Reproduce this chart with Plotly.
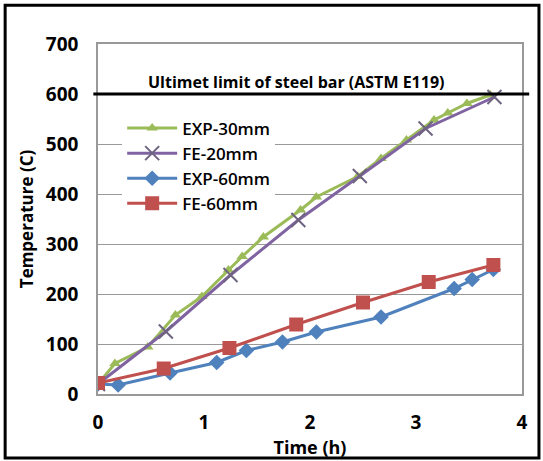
import plotly.graph_objects as go

# EXP-30mm (green triangles)
exp30_t = [0, 0.16, 0.47, 0.73, 0.98, 1.23, 1.36, 1.56, 1.91, 2.06, 2.45, 2.67, 2.91, 3.17, 3.30, 3.48, 3.70]
exp30_T = [20, 61, 94, 158, 195, 248, 275, 314, 368, 394, 435, 471, 508, 548, 562, 581, 598]
# FE-20mm (purple crosses)
fe20_t = [0, 0.64, 1.25, 1.89, 2.47, 3.09, 3.74]
fe20_T = [20, 125, 238, 348, 436, 531, 594]
# EXP-60mm (blue diamonds)
exp60_t = [0, 0.19, 0.68, 1.12, 1.40, 1.74, 2.06, 2.67, 3.36, 3.53, 3.73]
exp60_T = [20, 18, 42, 63, 87, 104, 124, 154, 211, 229, 249]
# FE-60mm (red squares)
fe60_t = [0, 0.62, 1.24, 1.87, 2.50, 3.12, 3.73]
fe60_T = [22, 51, 92, 139, 183, 224, 258]

limit_value = 600
limit_label = "Ultimet limit of steel bar (ASTM E119)"
x_ticks = [0, 1, 2, 3, 4]
y_ticks = [0, 100, 200, 300, 400, 500, 600, 700]

FONT = "Open Sans"

fig = go.Figure()
fig.add_trace(go.Scatter(x=exp30_t, y=exp30_T, name="EXP-30mm", mode="lines+markers",
                         line=dict(color="#9BBB59", width=3),
                         marker=dict(symbol="triangle-up", size=10, color="#9BBB59")))
fig.add_trace(go.Scatter(x=fe20_t, y=fe20_T, name="FE-20mm", mode="lines+markers",
                         line=dict(color="#8064A2", width=3),
                         marker=dict(symbol="x-thin-open", size=14, color="#6E6480",
                                     line=dict(color="#6E6480", width=2))))
fig.add_trace(go.Scatter(x=exp60_t, y=exp60_T, name="EXP-60mm", mode="lines+markers",
                         line=dict(color="#4F81BD", width=3),
                         marker=dict(symbol="diamond", size=12, color="#4F81BD")))
fig.add_trace(go.Scatter(x=fe60_t, y=fe60_T, name="FE-60mm", mode="lines+markers",
                         line=dict(color="#C0504D", width=3),
                         marker=dict(symbol="square", size=14, color="#C0504D")))

# limit line
fig.add_shape(type="line", xref="paper", yref="y", x0=-0.011, x1=1.017,
              y0=limit_value, y1=limit_value, line=dict(color="black", width=3))
fig.add_annotation(xref="x", yref="y", x=1.87, y=limit_value, yshift=12,
                   text="<b>" + limit_label + "</b>", showarrow=False,
                   font=dict(family=FONT, size=16, color="black"))
# outer frame
fig.add_shape(type="rect", xref="paper", yref="paper", x0=-0.219, x1=1.040,
              y0=-0.183, y1=1.111, line=dict(color="black", width=3))

fig.update_layout(
    width=543, height=461,
    margin=dict(l=98, r=21, t=44, b=67, autoexpand=False),
    paper_bgcolor="white", plot_bgcolor="white",
    font=dict(family=FONT, size=17, color="black"),
    showlegend=True,
    legend=dict(x=0.057, y=0.81, xanchor="left", yanchor="top",
                bgcolor="white", borderwidth=0,
                font=dict(family=FONT, size=17, color="black", weight=600),
                tracegroupgap=0, itemwidth=50),
    xaxis=dict(range=[0, 4], tickvals=x_ticks, ticktext=[f"<b>{v}</b>" for v in x_ticks],
               tickfont=dict(size=19), automargin=False,
               showgrid=False, zeroline=False, showline=True, mirror=True,
               linecolor="#999999", linewidth=1.5, ticks="", ticklabelstandoff=10,
               title=dict(text="<b>Time (h)</b>", standoff=2,
                          font=dict(family=FONT, size=18))),
    yaxis=dict(range=[0, 700], tickvals=y_ticks, ticktext=[f"<b>{v}</b>" for v in y_ticks],
               tickfont=dict(size=19), automargin=False,
               showgrid=True, gridcolor="#999999", gridwidth=1, zeroline=False,
               showline=True, mirror=True, linecolor="#999999", linewidth=1.5,
               ticks="", ticklabelstandoff=14,
               title=dict(text="<b>Temperature (C)</b>", standoff=8,
                          font=dict(family=FONT, size=17))),
)

fig.write_html("out.html", config={"displayModeBar": False},
               post_script="document.body.style.margin='0';document.body.style.overflow='hidden';")
